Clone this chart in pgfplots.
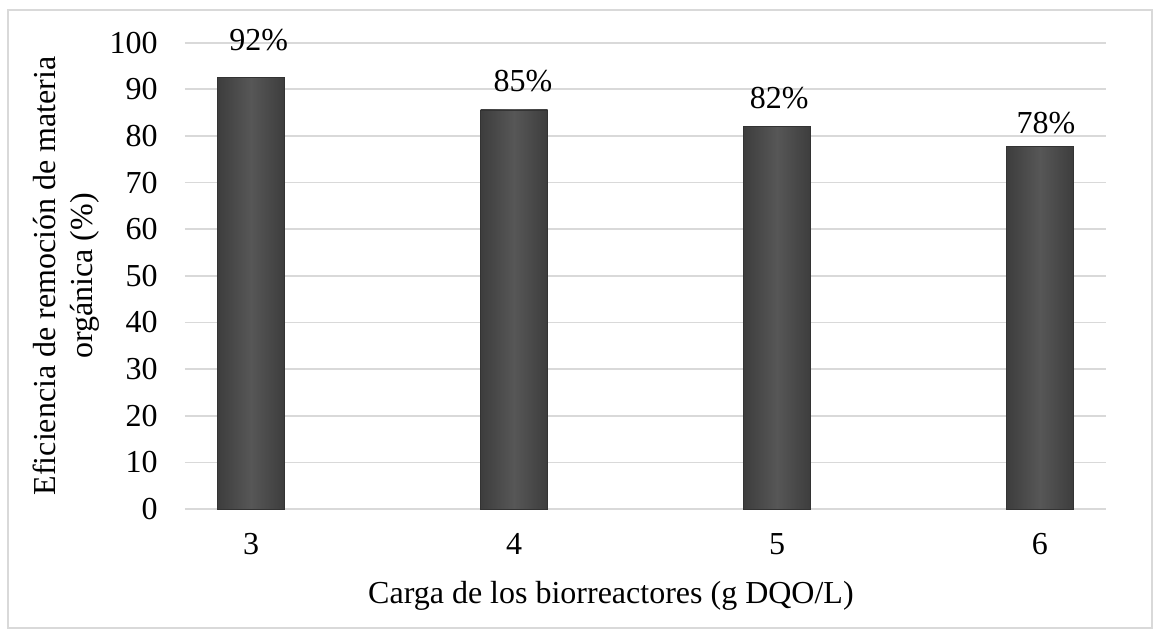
\documentclass[border=0pt]{standalone}
\usepackage{pgfplots}
\pgfplotsset{compat=1.18}
\usepackage{fontspec}
\setmainfont{Liberation Serif}
\definecolor{gridgray}{HTML}{D9D9D9}
\begin{document}
\begin{tikzpicture}[x=0.75pt,y=0.75pt]
\useasboundingbox (0,0) rectangle (1154,637);
\draw[color=gridgray, line width=1.2pt] (8,9) rectangle (1152,627);
\begin{axis}[
  at={(138.75pt,96pt)}, anchor=south west,
  scale only axis, width=690.75pt, height=349.7pt,
  xmin=2.749, xmax=6.251, ymin=0, ymax=100,
  xtick={3,4,5,6}, ytick={0,10,...,100},
  ymajorgrids, grid style={gridgray, line width=1.3pt},
  axis line style={draw=none}, tick style={draw=none},
  /pgf/number format/assume math mode=true,
  tick label style={font=\fontsize{24}{29}\selectfont},
  yticklabel shift=17pt, xticklabel shift=15pt,
  xlabel={Carga de los biorreactores (g DQO/L)},
  ylabel={Eficiencia de remoción de materia\\orgánica (\%)},
  every axis x label/.style={at={(axis description cs:0.4625,-0.2016)}, anchor=base, font=\fontsize{24}{29}\selectfont},
  every axis y label/.style={at={(axis description cs:-0.0923,0.5)}, anchor=south, rotate=90, align=center, inner sep=0pt, font=\fontsize{24}{28}\selectfont},
  clip=false,
  barstyle/.style={ybar, bar width=50.25pt, bar shift=0pt, draw=black!80, line width=0.5pt,
    left color=black!76, right color=black!76, middle color=black!66},
]
\addplot[barstyle] coordinates {(3,92.6)};
\addplot[barstyle] coordinates {(4,85.6)};
\addplot[barstyle] coordinates {(5,82.0)};
\addplot[barstyle] coordinates {(6,77.8)};
\addplot[draw=none, mark=none, nodes near coords, point meta=explicit symbolic,
  every node near coord/.style={anchor=base, inner sep=0pt, font=\fontsize{24}{29}\selectfont}]
  coordinates {(3.029,98.4)[92\%] (4.034,89.5)[85\%] (5.008,85.8)[82\%] (6.023,80.6)[78\%]};
\end{axis}
\end{tikzpicture}
\end{document}
